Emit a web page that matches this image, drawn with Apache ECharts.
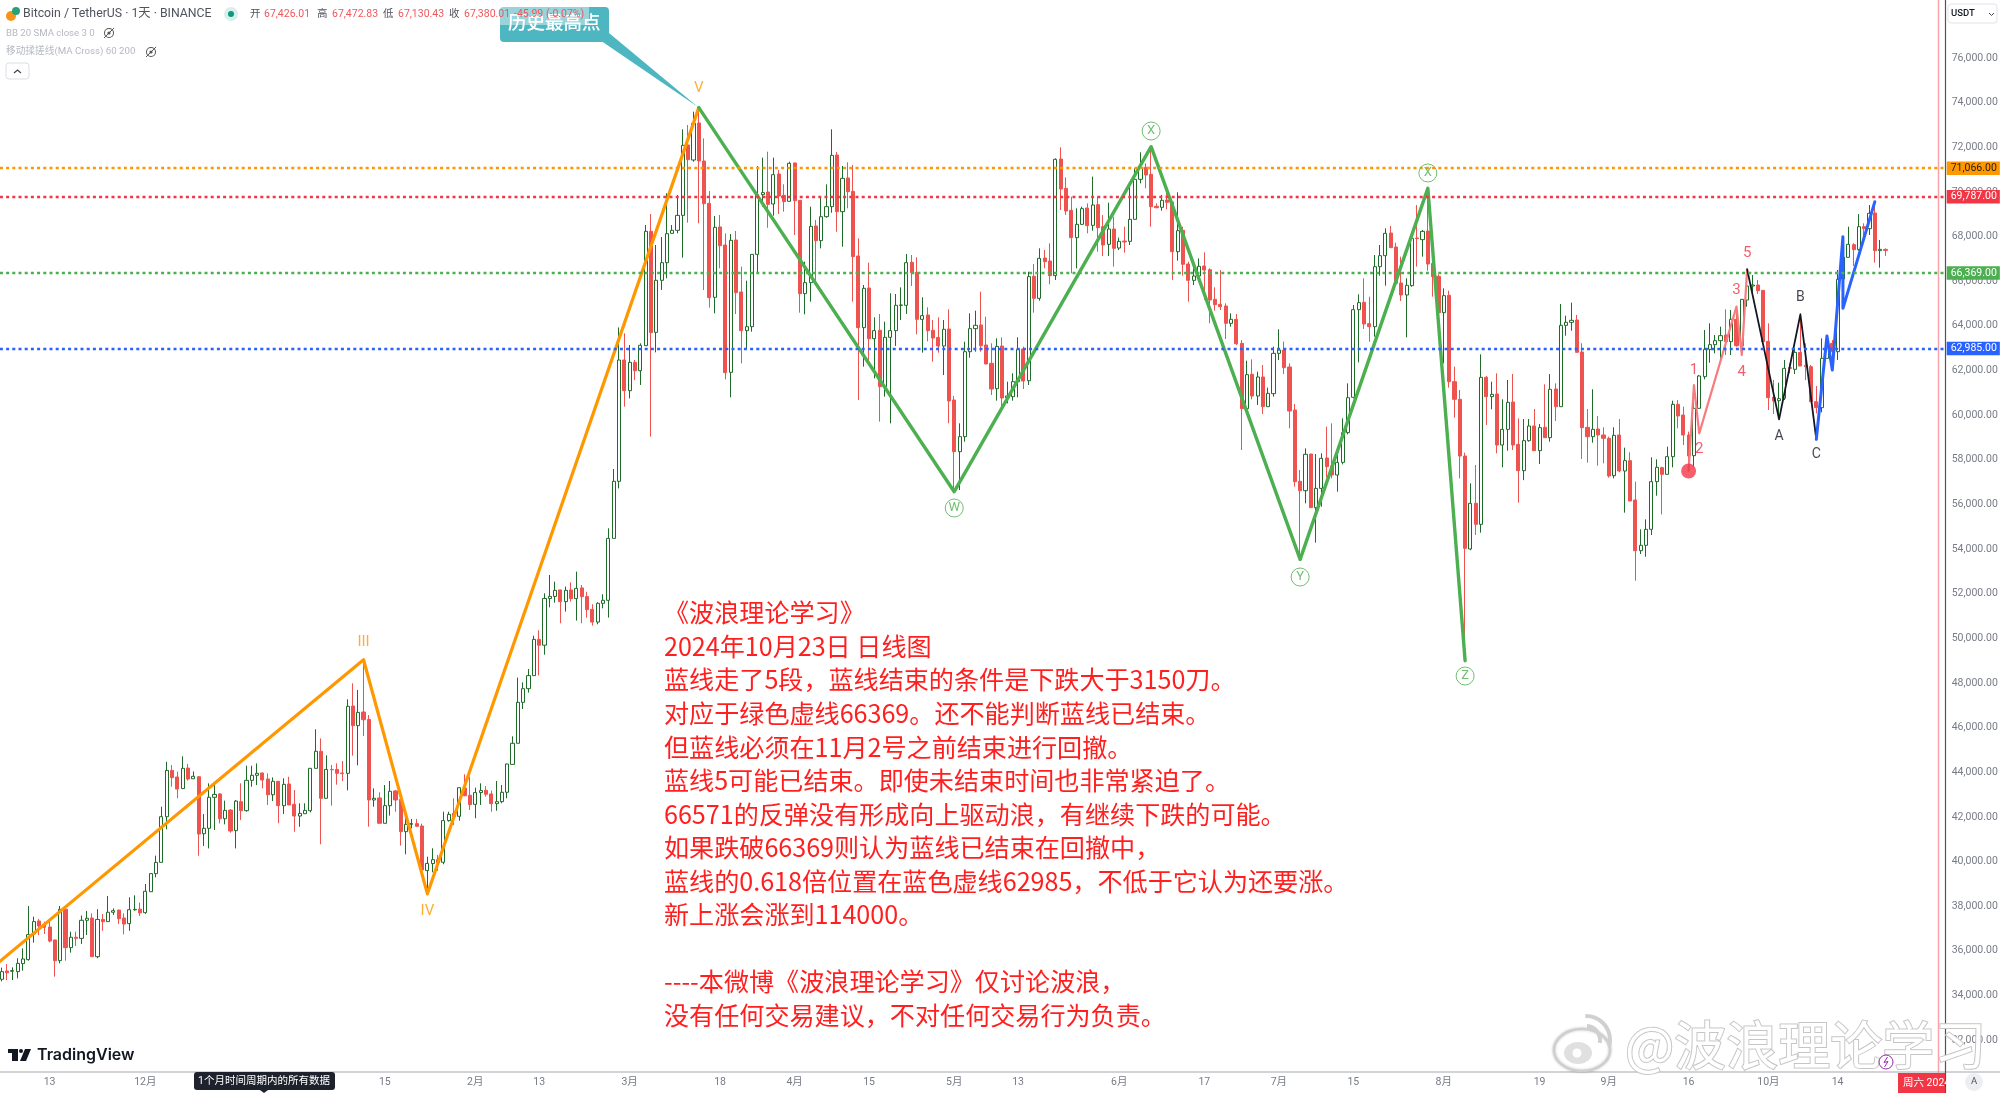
<!DOCTYPE html>
<html><head><meta charset="utf-8">
<style>html,body{margin:0;padding:0;background:#fff}#c{width:2000px;height:1093px}</style>
<script src="https://cdn.jsdelivr.net/npm/echarts@6/dist/echarts.min.js"></script>
</head><body><div id="c"></div>
<script>
// daily candles from 2023-11-04 to 2024-10-23: [open, close, low, high]
const candles = [
[34726,35070,34632,35250],[35100,35020,34690,35410],[35085,35115,34696,35264],[35070,35440,34770,35670],[35428,35637,35115,36110],
[35607,36727,35562,38010],[36757,37310,36370,37533],[37340,37115,36710,37430],[37160,37055,36760,37310],[37070,36440,36380,37430],
[36490,35560,34845,36490],[35560,37860,35440,38010],[37870,36145,35560,37905],[36145,36610,35920,36860],[36610,36560,36220,36860],
[36560,37370,36310,37580],[37370,37460,36710,37790],[37470,35740,35740,37680],[35740,37410,35670,37870],[37410,37310,36900,37650],
[37310,37730,37310,38460],[37730,37800,37610,37905],[37830,37440,37200,37830],[37470,37200,36740,37680],[37220,37845,36900,38400],
[37840,37860,37800,38490],[37870,37700,37560,38160],[37710,38670,37660,38995],[38650,39460,38650,39470],[39460,39965,39295,40265],
[39965,42010,39965,42460],[42010,44085,41445,44470],[44085,43760,43355,44325],[43790,43250,42840,44030],[43270,44177,43270,44715],
[44190,43700,43625,44370],[43710,43820,43710,44040],[43800,41235,40265,43830],[41250,41490,40700,42130],[41490,42880,40590,43505],
[42880,43010,41415,43430],[43030,41920,41710,43060],[41920,42295,41670,42730],[42310,41370,41295,42340],[41385,42710,40590,42760],
[42685,42280,41860,43505],[42280,43640,42235,44295],[43640,43865,43355,44295],[43865,43955,43430,44400],[43970,43655,43280,43985],
[43700,42995,42535,43955],[42995,43595,42710,43770],[43595,42505,41715,43595],[42505,43460,42130,43730],[43475,42535,42535,43800],
[42565,42040,41340,43205],[42040,42160,41560,42610],[42145,42295,42145,42610],[42280,44178,42205,44178],[44178,44940,44178,45925],
[44940,42835,40775,45520],[42835,44130,42835,44760],[44130,44115,42505,44328],[44130,43955,43445,44400],[43970,43940,43610,44505],
[43955,46955,43190,47270],[46970,46090,44745,47985],[46090,46685,44310,47685],[46700,46355,45625,49040],[46370,42760,41565,46565],
[42760,42835,42460,43280],[42850,41715,41715,43105],[41715,42505,41715,43430],[42505,43150,42060,43610],[43165,42760,42235,43210],
[42790,41340,40715,43130],[41340,41670,40325,42205],[41670,41700,41490,41910],[41700,41580,41560,41910],[41595,39625,39625,41700],
[39595,39920,38580,40220],[39910,40085,39520,40595],[40085,39950,39580,40295],[39970,41835,39880,42235],[41835,42115,41790,42235],
[42160,42010,41640,42835],[42030,43310,41830,43310],[43295,42950,42950,43910],[42970,42550,42310,43805],[42565,43090,41940,43310],
[43090,43180,42535,43505],[43190,43015,42910,43385],[43030,42595,42235,43180],[42595,42685,42280,43610],[42685,43105,42610,43430],
[43105,44370,42835,44390],[44355,45300,44355,45610],[45300,47135,45300,48240],[47135,47745,46835,48030],[47745,48330,47570,48625],
[48330,49956,48330,50120],[49956,49693,48340,50360],[49693,51787,49270,52020],[51787,51880,51390,52840],[51880,52150,51600,52540],
[52170,51645,50675,52180],[51645,52150,51198,52320],[52170,51780,51645,52510],[51780,52240,50795,52990],[52260,51870,50675,52390],
[51870,51285,50930,52090],[51300,50730,50570,51525],[50730,51570,50630,51615],[51570,51705,51345,51975],[51705,54480,50930,54930],
[54480,57035,54480,57587],[57035,62470,56720,63930],[62470,61095,60380,63665],[61095,62365,60750,63142],[62365,61990,61570,62470],
[61990,63127,61350,63217],[63112,68234,63112,68518],[68234,63695,59036,69011],[63710,66040,62814,67622],[66040,66830,65606,67980],
[66830,68130,66130,69937],[68145,68280,68145,68518],[68280,68950,68145,69860],[68950,72087,67055,72804],[72102,71445,68623,72998],
[71430,73073,71355,73595],[73088,71385,68593,73777],[71385,69474,65606,72400],[69490,65263,64815,70041],[65278,68414,64561,68921],
[68430,67592,66577,68966],[67622,61903,61604,68145],[61918,67831,60798,68115],[67846,65487,64530,68250],[65517,63785,62321,66652],
[63785,63963,62993,66024],[63963,67204,63740,67204],[67204,69877,66383,71161],[69877,69967,69340,71535],[69997,69444,68393,71803],
[69459,70773,68936,71535],[70803,69817,69010,70982],[69847,69564,69115,70340],[69579,71281,69579,71355],[71296,69608,68069,71310],
[69623,65442,64591,69638],[65442,65935,64516,66875],[65935,68458,65083,69339],[68473,67816,66025,68742],[67816,68891,67473,69758],
[68891,69340,68846,70340],[69340,71639,69069,72804],[71654,69115,68219,71788],[69115,70609,67547,71161],[70624,70011,69265,71325],
[70026,67100,65083,71206],[67130,63919,60678,67921],[63919,65681,62172,65830],[65696,63426,62321,66830],[63426,63785,61649,64382],
[63800,61276,59708,64531],[61276,63486,60828,64187],[63486,63785,59633,65457],[63785,64920,63097,65427],[64920,64935,64262,65726],
[64920,66830,64531,67219],[66845,66382,65786,67174],[66397,64292,63620,67069],[64292,64456,62799,65278],[64486,63785,63307,64830],
[63800,63456,62396,64262],[63486,63097,62799,64382],[63097,63844,61798,64262],[63859,60633,59633,64740],[60678,58364,56571,60857],
[58364,59036,56646,59633],[59036,62843,58812,63292],[62843,63874,62575,64561],[63874,64023,62844,64680],[64038,63112,62844,65531],
[63142,62291,62291,64412],[62321,61171,60902,63217],[61186,63083,60648,63441],[63097,60768,60380,63486],[60783,60857,60529,61500],
[60828,61500,60648,61873],[61500,62948,60798,63486],[62963,61529,61171,63068],[61544,66204,61350,66427],[66219,65233,64591,66771],
[65233,67025,65128,67473],[67040,66875,66577,67398],[66905,66249,65860,67697],[66249,71460,66054,71505],[71475,70131,69190,71998],
[70161,69145,68966,70653],[69175,67950,66353,69788],[67950,68548,66577,69265],[68548,69250,68518,69340],[69280,68488,68145,69489],
[68503,69414,68264,70683],[69429,68399,67324,69788],[68443,67622,67129,68966],[67652,68339,67129,69519],[68339,67472,66652,68891],
[67487,67786,67398,67950],[67801,67756,67278,68443],[67786,68772,67622,70310],[68772,70564,68772,71057],[70564,71087,70385,71773],
[71102,70758,70161,71281],[70788,69340,68443,72027],[69355,69295,69265,69489],[69310,69623,69160,69862],[69638,69534,69220,70161],
[69549,67323,66054,69560],[67323,68264,66920,69982],[68279,66756,66248,68443],[66771,66039,65083,66875],[66039,66233,65830,66577],
[66233,66666,66203,67024],[66681,66502,65158,67293],[66517,65158,64113,66577],[65188,64949,64681,65726],[64964,64860,64710,66502],
[64890,64113,63411,65009],[64113,64292,63963,64561],[64292,63202,63142,64531],[63217,60290,58438,63366],[60290,61813,60290,62440],
[61828,60858,60708,62500],[60858,61709,60455,61948],[61709,60380,60052,62246],[60380,60977,60380,61231],[60962,62769,60828,63067],
[62769,62918,62470,63844],[62918,62127,61843,63292],[62157,60185,59409,62321],[60230,57020,56795,60499],[57035,56616,53540,57542],
[56616,58244,56049,58513],[58259,55855,55855,58259],[55855,56720,54287,58259],[56720,58065,55900,58289],[58080,57692,57214,59484],
[57722,57318,57169,59633],[57318,57886,56571,58513],[57886,59215,57795,59857],[59215,60783,59140,61425],[60798,64725,60753,64934],
[64725,65039,62366,65412],[65054,64083,63859,66129],[64098,63963,63291,65308],[63963,66651,63516,67174],[66651,67144,66248,67622],
[67144,68145,65800,68369],[68160,67503,67503,68473],[67533,65905,65905,67726],[65920,65382,65113,67099],[65382,65815,63486,66129],
[65800,67920,65755,68145],[67936,67906,66652,69414],[67861,68234,67099,68294],[68249,66771,66472,70161],[66801,66203,65307,66875],
[66218,64591,64591,66310],[64591,65352,62321,65681],[65367,61500,61231,65576],[61500,60709,59887,62172],[60709,58169,57169,61127],
[58169,54033,49000,58319],[54003,56049,53950,56945],[56049,55108,54631,57766],[55108,61694,54735,62724],[61694,60827,59558,61754],
[60827,60932,60260,61500],[60947,58662,58289,61873],[58662,59364,57662,60708],[59364,60574,58409,61574],[60589,58662,58439,61843],
[58692,57512,56078,59857],[57512,58856,57087,59827],[58856,59514,58811,59827],[59514,58409,58409,60275],[58409,59439,57811,59603],
[59454,58991,58991,61380],[58991,61156,58811,61843],[61171,60380,59737,61425],[60380,64023,60380,64979],[64023,64158,63560,64456],
[64158,64247,63784,65039],[64262,62814,62814,64486],[62829,59439,58035,63217],[59454,59036,57871,60275],[59036,59364,58767,61156],
[59379,59110,57737,59960],[59110,58961,57841,59454],[58961,57273,57199,59036],[57288,59095,57169,59454],[59110,57497,57438,59827],
[57497,57961,55631,58543],[57961,56154,56154,58334],[56198,53928,52584,57020],[53928,54168,53779,54884],[54168,54884,53659,55332],
[54884,57020,54630,58110],[57020,57662,56392,58020],[57647,57348,55556,57692],[57348,58140,57348,58588],[58140,60484,57662,60648],
[60484,59961,59409,60678],[60006,59110,58662,60380],[59110,58170,57542,59260],[58184,60305,57691,61350],[60305,61754,60305,61798],
[61724,62948,61604,63814],[62948,63157,62350,64113],[63157,63336,62769,63590],[63336,63560,62350,63963],[63590,63292,62694,64740],
[63292,64292,62694,64710],[64292,63112,63068,64890],[63112,65188,62694,65188],[65158,65785,64860,66532],[65785,65830,65457,66278],
[65830,65576,65427,66054],[65591,63291,63262,65591],[63307,60783,60230,64113],[60798,60633,60051,61574],[60648,60738,60006,61454],
[60753,62097,60678,62470],[62127,62097,61873,62321],[62052,62814,61843,62993],[62814,62201,62201,64561],[62231,62171,61574,63217],
[62171,60603,60603,62250],[60603,60335,60080,61305],[60335,62545,60126,63441],[62545,63217,62545,63515],[63217,62843,62097,63366],
[62843,66084,62470,66502],[66099,67070,66099,67995],[67070,67652,67070,68443],[67637,67413,66682,67697],[67413,68443,67368,69011],
[68443,68354,67995,68593],[68354,69041,68070,69414],[69056,67368,66831,69520],[67368,67428,66607,67846],[67426,67380,67130,67472]
];
const slotCount = 367;   // one lead-in slot, the candles, and the empty right margin
const tickIndex = [10,28,73,90,102,119,136,150,164,180,192,211,227,241,255,272,290,303,318,333,346];
const tickText  = ['13','12月','15','2月','13','3月','18','4月','15','5月','13','6月','17','7月','15','8月','19','9月','16','10月','14'];
const levelValues = [71066,69787,66369,62985];
const levelColors = ['#ff9800','#f23645','#4caf50','#2962ff'];
const levelTextColors = ['#222','#fff','#fff','#fff'];
const waveOrange = [[0,35400],[69,49040],[81,38555],[132,73777]];
const waveGreen  = [[132,73777],[180,56571],[217,72027],[245,53540],[269,70161],[276,49000]];
const wavePink   = [[318,57497],[319,61350],[320,59185],[327,64860],[328,62694],[329,66532]];
const waveBlack  = [[329,66532],[335,59812],[339,64516],[342,58916]];
const waveBlue   = [[342,58916],[344,63545],[345,62022],[347,67995],[347,64785],[353,69563]];
const labelsOrange = [[69,49836,'III'],[81,37762,'IV'],[132,74656,'V']];
const labelsCircled = [[180,55840,'W'],[217,72729,'X'],[245,52748,'Y'],[269,70848,'X'],[276,48313,'Z']];
const labelsRed = [[319,62022,'1'],[320,58483,'2'],[327,65606,'3'],[328,61932,'4'],[329,67264,'5']];
const labelsBlack = [[335,59065,'A'],[339,65248,'B'],[342,58259,'C']];
const startDot = [[318,57497]];
const noteLines = [
'《波浪理论学习》','2024年10月23日 日线图','蓝线走了5段，蓝线结束的条件是下跌大于3150刀。','对应于绿色虚线66369。还不能判断蓝线已结束。',
'但蓝线必须在11月2号之前结束进行回撤。','蓝线5可能已结束。即使未结束时间也非常紧迫了。','66571的反弹没有形成向上驱动浪，有继续下跌的可能。',
'如果跌破66369则认为蓝线已结束在回撤中，','蓝线的0.618倍位置在蓝色虚线62985，不低于它认为还要涨。','新上涨会涨到114000。','',
'----本微博《波浪理论学习》仅讨论波浪，','没有任何交易建议，不对任何交易行为负责。'];

const FONT = 'Roboto, "Noto Sans CJK SC", sans-serif';
const categories = new Array(slotCount).fill('');
tickIndex.forEach((k,n)=>{categories[k]=tickText[n];});

function waveSeries(data,color,width,z){return {type:'line',data,symbol:'none',silent:true,z:z||4,animation:false,
  lineStyle:{color,width,cap:'round',join:'round'},clip:false};}
function labelSeries(data,color,size){return {type:'scatter',data,symbolSize:0,silent:true,z:6,animation:false,clip:false,
  label:{show:true,position:'inside',formatter:p=>p.value[2],color,fontSize:size,fontFamily:FONT}};}

const eye=(cx,cy)=>[
 {type:'ring',shape:{cx,cy,r:5,r0:4},style:{fill:'#555'},z:50},
 {type:'circle',shape:{cx,cy,r:1.6},style:{fill:'#555'},z:50},
 {type:'line',shape:{x1:cx-5,y1:cy+5,x2:cx+5,y2:cy-5},style:{stroke:'#555',lineWidth:1},z:50}];
const tx=(x,y,text,fill,size,extra)=>({type:'text',x,y,z:60,silent:true,
  style:Object.assign({text,fill,fontSize:size,fontFamily:FONT,verticalAlign:'middle'},extra||{})});

const elements=[
 // frame
 {type:'line',shape:{x1:0,y1:1072,x2:2000,y2:1072},style:{stroke:'#a6a8ad',lineWidth:1.2},z:40},
 {type:'line',shape:{x1:1945.5,y1:0,x2:1945.5,y2:1093},style:{stroke:'#50535e',lineWidth:1.2},z:40},
 {type:'line',shape:{x1:1938.5,y1:0,x2:1938.5,y2:1093},style:{stroke:'#f8a3aa',lineWidth:1.5},z:39},
 // header legend
 {type:'circle',shape:{cx:11,cy:16,r:5},style:{fill:'#f7931a'},z:50},
 {type:'circle',shape:{cx:16,cy:11,r:4},style:{fill:'#26a17b'},z:50},
 tx(23,14,'Bitcoin / TetherUS · 1天 · BINANCE','#50535e',12.3),
 {type:'circle',shape:{cx:231,cy:14,r:7},style:{fill:'#d9efe9'},z:50},
 {type:'circle',shape:{cx:231,cy:14,r:3},style:{fill:'#089981'},z:50},
 tx(250,14,'开','#50535e',10.5), tx(264,14,'67,426.01','#f0575c',10.5),
 tx(317,14,'高','#50535e',10.5), tx(332,14,'67,472.83','#f0575c',10.5),
 tx(383,14,'低','#50535e',10.5), tx(398,14,'67,130.43','#f0575c',10.5),
 tx(449,14,'收','#50535e',10.5), tx(464,14,'67,380.01','#f0575c',10.5),
 tx(6,34,'BB 20 SMA close 3 0','#b6b9c2',9.6),
 ...eye(109,33),
 tx(6,52,'移动揉搓线(MA Cross) 60 200','#b6b9c2',9.7),
 ...eye(151,52),
 {type:'rect',shape:{x:6,y:63,width:23,height:16,r:3},style:{fill:'#fff',stroke:'#dcdee4'},z:50},
 {type:'polyline',shape:{points:[[14,73],[17.5,70],[21,73]]},style:{stroke:'#444',fill:null,lineWidth:1.2},z:51},
 // callout
 {type:'polygon',shape:{points:[[602,41.5],[609,33],[698,107]]},style:{fill:'#4db6c1'},z:45},
 {type:'rect',shape:{x:500,y:7,width:109,height:35,r:4},style:{fill:'#4db6c1'},z:45},
 {type:'rect',shape:{x:500,y:7,width:89,height:18,r:[4,0,0,0]},style:{fill:'rgba(255,255,255,0.42)'},z:46},
 tx(508,24,'历史最高点','#fff',18.5,{fontWeight:500}),
 tx(514,14,'-45.99 (-0.07%)','#f0575c',10.5),
 // note
 {type:'text',x:664,y:596,z:30,silent:true,style:{text:noteLines.join('\n'),fill:'#ff1f1f',fontSize:25.1,lineHeight:33.55,
   fontFamily:'"Noto Sans CJK SC", sans-serif'}},
 // TradingView
 {type:'rect',shape:{x:8,y:1049,width:10,height:4},style:{fill:'#131722'},z:50},
 {type:'rect',shape:{x:12,y:1049,width:6,height:12},style:{fill:'#131722'},z:50},
 {type:'circle',shape:{cx:21,cy:1051,r:2},style:{fill:'#131722'},z:50},
 {type:'polygon',shape:{points:[[25,1049],[31,1049],[26,1061],[20,1061]]},style:{fill:'#131722'},z:50},
 tx(37,1055,'TradingView','#131722',16,{fontFamily:'Inter, sans-serif',fontWeight:600}),
 // tooltip on time scale
 {type:'rect',shape:{x:194,y:1072,width:141,height:18,r:3},style:{fill:'#1e222d'},z:50},
 {type:'polygon',shape:{points:[[260,1090],[268,1090],[264,1093]]},style:{fill:'#1e222d'},z:50},
 tx(264,1081,'1个月时间周期内的所有数据','#fff',10.5,{align:'center'}),
 // date box, USDT box, A, bolt
 {type:'rect',shape:{x:1898,y:1073,width:47,height:20},style:{fill:'#f23645'},z:50},
 tx(1903,1083,'周六 2024','#fff',10.5),
 {type:'rect',shape:{x:1948,y:4,width:49,height:19,r:3},style:{fill:'#fff',stroke:'#e0e3eb'},z:50},
 tx(1951,14,'USDT','#131722',9.5,{fontWeight:500}),
 {type:'polyline',shape:{points:[[1989,13],[1991.5,15.5],[1994,13]]},style:{stroke:'#444',fill:null},z:51},
 {type:'circle',shape:{cx:1974,cy:1082,r:9},style:{fill:'#eceef2'},z:50},
 tx(1974,1082,'A','#50535e',9.5,{align:'center'}),
 {type:'circle',shape:{cx:1886,cy:1062,r:7},style:{fill:'#fff',stroke:'#9c27b0',lineWidth:1},z:62},
 {type:'polyline',shape:{points:[[1887.5,1057],[1884,1062.5],[1888,1061.5],[1884.5,1067]]},style:{stroke:'#9c27b0',fill:null,lineWidth:1},z:63},
 // Weibo watermark
 {type:'ellipse',shape:{cx:1582,cy:1050,rx:28,ry:21},style:{fill:'#fff',stroke:'#cfcfcf',lineWidth:2.5,shadowColor:'rgba(0,0,0,0.2)',shadowBlur:3},z:55},
 {type:'ellipse',shape:{cx:1578,cy:1053,rx:14,ry:11},style:{fill:'#e0e0e0'},z:56},
 {type:'circle',shape:{cx:1577,cy:1053,r:4.5},style:{fill:'#fff'},z:57},
 {type:'arc',shape:{cx:1586,cy:1040,r:14,startAngle:-1.5,endAngle:0.2},style:{stroke:'#d0d0d0',fill:null,lineWidth:4},z:55},
 {type:'arc',shape:{cx:1586,cy:1040,r:24,startAngle:-1.6,endAngle:0.25},style:{stroke:'#d0d0d0',fill:null,lineWidth:4},z:55},
 {type:'text',x:1625,y:1045,z:55,silent:true,style:{text:'@波浪理论学习',fill:'#fff',stroke:'#c6c6c6',lineWidth:2,fontSize:52,
   fontFamily:'"Noto Sans CJK SC", sans-serif',verticalAlign:'middle',shadowColor:'rgba(0,0,0,0.25)',shadowBlur:3}}
];

const chart=echarts.init(document.getElementById('c'),null,{renderer:'canvas'});
chart.setOption({
 animation:false,backgroundColor:'#fff',
 grid:{left:-6.3,top:13.35,width:1953,height:1071.45,containLabel:false,outerBoundsMode:'none'},
 xAxis:{type:'category',data:categories,boundaryGap:true,offset:-12.8,
   axisLine:{show:false},axisTick:{show:false},splitLine:{show:false},
   axisLabel:{interval:0,color:'#787b86',fontSize:10.5,fontFamily:FONT,margin:5,hideOverlap:false}},
 yAxis:{type:'value',position:'right',min:30000,max:78000,interval:2000,scale:true,
   axisLine:{show:false},axisTick:{show:false},splitLine:{show:false},
   axisLabel:{showMinLabel:false,showMaxLabel:false,color:'#787b86',fontSize:10.5,fontFamily:FONT,margin:5,padding:[3,0,0,0],
     formatter:v=>v.toLocaleString('en-US',{minimumFractionDigits:2,maximumFractionDigits:2})}},
 graphic:{elements},
 series:[
  {type:'candlestick',barWidth:3.6,z:2,silent:true,clip:false,
   data:candles.map((c,i)=>[i+1,c[0],c[1],c[2],c[3]]),
   encode:{x:0,y:[1,2,3,4]},
   itemStyle:{color:'#ffffff',color0:'#ef5350',borderColor:'#1f6b2a',borderColor0:'#ef5350',borderWidth:1},
   markLine:{symbol:'none',silent:true,animation:false,precision:0,
     data:levelValues.map((v,i)=>({yAxis:v,
       lineStyle:{color:levelColors[i],type:[3,3.2],width:2.4},
       label:{show:true,position:'end',distance:0,formatter:v.toLocaleString('en-US',{minimumFractionDigits:2}),
         color:levelTextColors[i],backgroundColor:levelColors[i],padding:[1.5,3,1.5,4],fontSize:10.5,fontFamily:FONT}}))}},
  waveSeries(waveOrange,'#ff9800',3.2),
  waveSeries(waveGreen,'#4caf50',3.4),
  waveSeries(wavePink,'#f77c80',2.2),
  waveSeries(waveBlack,'#131722',1.8),
  waveSeries(waveBlue,'#2962ff',3),
  labelSeries(labelsOrange,'#ff9800',15),
  labelSeries(labelsRed,'#f23645',15),
  labelSeries(labelsBlack,'#131722',14),
  {type:'scatter',data:labelsCircled,symbol:'circle',symbolSize:18,silent:true,z:6,animation:false,clip:false,
   itemStyle:{color:'rgba(255,255,255,0)',borderColor:'#4caf50',borderWidth:1},
   label:{show:true,position:'inside',formatter:p=>p.value[2],color:'#4caf50',fontSize:13,fontFamily:FONT}},
  {type:'scatter',data:startDot,symbol:'circle',symbolSize:15,silent:true,z:7,animation:false,clip:false,itemStyle:{color:'#f23645'}}
 ]
});
</script></body></html>
